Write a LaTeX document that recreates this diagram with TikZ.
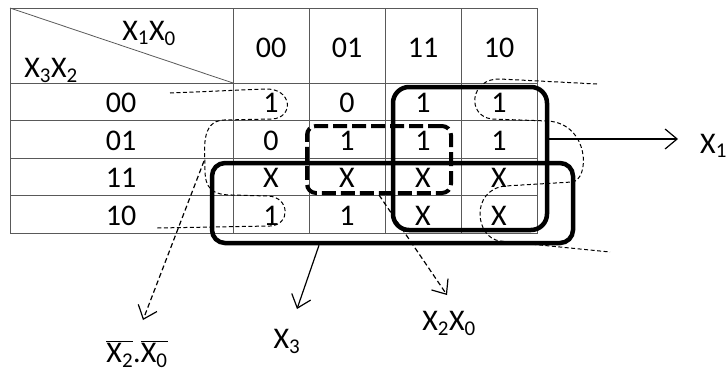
\documentclass[tikz,border=0pt]{standalone}
\usepackage{fontspec}
\setmainfont{Carlito}
\usetikzlibrary{arrows.meta}

\newcommand{\xvar}[1]{X\textsubscript{#1}}
\newcommand{\xneg}[1]{$\overline{\hbox{\xvar{#1}}}$}

\begin{document}
\begin{tikzpicture}[x=1pt,y=-1pt,
    every node/.style={font=\fontsize{30}{36}\selectfont,inner sep=0pt},
    grp/.style={draw,line width=4.5pt},
    arr/.style={-{Straight Barb[length=12pt,width=20pt]},line width=1.2pt},
    hint/.style={dash pattern=on 4pt off 2.5pt,line width=1pt}]

  \useasboundingbox (0,0) rectangle (728,376);

  % the map grid
  \begin{scope}[black!65,line width=0.8pt]
    \draw (10,8) rectangle (537,233);
    \foreach \y in {83,120.5,158,195.5} \draw (10,\y) -- (537,\y);
    \foreach \x in {233,309,385,461} \draw (\x,8) -- (\x,233);
    \draw (10,8) -- (233,83);
  \end{scope}

  % headers
  \node[anchor=base] (x1x0) at (149,40) {\xvar{1}\xvar{0}};
  \node[anchor=base] (x3x2) at (51,77) {\xvar{3}\xvar{2}};

  \begin{scope}[every node/.append style={anchor=base}]
    \node (h1) at (271,57) {00};
    \node (h2) at (347,57) {01};
    \node (h3) at (423,57) {11};
    \node (h4) at (499,57) {10};

    \node (ra) at (121,112) {00};
    \node (rb) at (121,150) {01};
    \node (rc) at (121,187) {11};
    \node (rd) at (121,225) {10};

    \node (a1) at (271,112) {1};
    \node (a2) at (347,112) {0};
    \node (a3) at (423,112) {1};
    \node (a4) at (499,112) {1};
    \node (b1) at (271,150) {0};
    \node (b2) at (347,150) {1};
    \node (b3) at (423,150) {1};
    \node (b4) at (499,150) {1};
    \node (c1) at (271,187) {X};
    \node (c2) at (347,187) {X};
    \node (c3) at (423,187) {X};
    \node (c4) at (499,187) {X};
    \node (d1) at (271,225) {1};
    \node (d2) at (347,225) {1};
    \node (d3) at (423,225) {X};
    \node (d4) at (499,225) {X};
  \end{scope}

  % groups
  \node[grp,rounded corners=16pt,minimum width=154pt,minimum height=143pt] (x1loop) at (470,158.5) {};
  \node[grp,rounded corners=13pt,minimum width=361pt,minimum height=80pt] (x3loop) at (392.5,203) {};
  \node[draw,line width=4pt,dash pattern=on 14pt off 5pt,rounded corners=9pt,
        minimum width=144pt,minimum height=67pt] (x2x0loop) at (379,159.5) {};

  % corner cells, wrapped round the edges
  \draw[hint] (170,93) -- (265,89) .. controls (293,88) and (294,118) .. (272,119)
    -- (224,120) .. controls (200,121) and (205,150) .. (205,170)
    .. controls (205,188) and (212,195) .. (232,195)
    -- (268,196) .. controls (290,197) and (291,225) .. (270,226) -- (157,228);
  \draw[hint] (597,84) -- (500,79) .. controls (470,78) and (466,116) .. (492,119)
    -- (548,121) .. controls (590,124) and (590,180) .. (572,182)
    -- (505,186) .. controls (470,190) and (475,238) .. (500,241) -- (610,252);

  % terms
  \coordinate (x1tip) at (678,139);
  \coordinate (x3tip) at (297,309);
  \coordinate (x2x0tip) at (447,295);
  \coordinate (nfrom) at (204,161);
  \coordinate (ntip) at (143,320);

  \node[anchor=base west] (x1) at (700,153) {\xvar{1}};
  \node[anchor=base] (x3) at (287,348) {\xvar{3}};
  \node[anchor=base] (x2x0) at (449,330) {\xvar{2}\xvar{0}};
  \node[anchor=base] (nx) at (137,362) {\xneg{2}.\xneg{0}};

  \draw[arr] (x1loop.east |- x1tip) -- (x1tip);
  \draw[arr] ([xshift=-73.5pt]x3loop.south) -- (x3tip);
  \draw[arr,dash pattern=on 5pt off 3pt] (x2x0loop.south) -- (x2x0tip);
  \draw[arr,dash pattern=on 5pt off 3pt] (nfrom) -- (ntip);

\end{tikzpicture}
\end{document}
